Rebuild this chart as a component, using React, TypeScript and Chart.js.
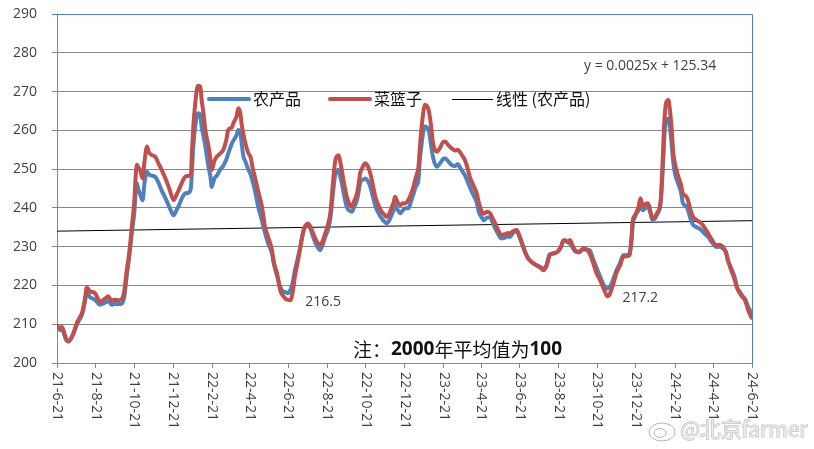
import React, { useEffect, useRef } from "react";
import { Chart, registerables } from "chart.js";

Chart.register(...registerables);

// Day offsets from 2021-06-21
const days = [
  0, 5, 8, 12, 15, 18, 24, 32, 40, 44, 47, 52, 60, 68, 75, 81, 86, 90, 97, 102,
  106, 110, 114, 118, 122, 124, 126, 128, 131, 135, 138, 142, 145, 150, 155, 160, 165, 171, 177, 184,
  188, 192, 197, 202, 207, 211, 213, 215, 218, 221, 223, 226, 228, 231, 234, 239, 242, 244, 248, 252,
  257, 262, 267, 270, 276, 278, 283, 286, 289, 291, 294, 297, 302, 305, 309, 312, 317, 323, 328, 333,
  339, 342, 347, 352, 357, 360, 364, 368, 372, 375, 379, 383, 389, 392, 396, 400, 404, 409, 415, 419,
  423, 427, 431, 436, 439, 444, 446, 449, 453, 457, 461, 465, 468, 473, 476, 478, 482, 486, 490, 494,
  498, 502, 506, 512, 516, 520, 524, 528, 531, 533, 537, 541, 546, 549, 554, 558, 562, 566, 570, 572,
  575, 578, 580, 586, 590, 593, 599, 604, 609, 612, 617, 622, 628, 632, 635, 639, 643, 647, 651, 656,
  662, 665, 670, 673, 678, 683, 687, 691, 695, 701, 706, 711, 714, 719, 725, 730, 735, 739, 743, 749,
  756, 762, 767, 772, 777, 784, 790, 795, 798, 801, 805, 809, 813, 817, 823, 830, 835, 840, 845, 851,
  856, 861, 865, 868, 871, 874, 878, 882, 888, 893, 898, 903, 906, 908, 911, 914, 917, 920, 924, 928,
  932, 936, 939, 943, 946, 952, 954, 956, 958, 961, 964, 966, 969, 972, 975, 979, 984, 987, 992, 995,
  999, 1003, 1009, 1016, 1021, 1027, 1032, 1040, 1045, 1050, 1055, 1058, 1063, 1069, 1072, 1077, 1081, 1085, 1090, 1095,
];

// 菜篮子 (red)
const cailanzi = [
  209.7, 209.0, 209.3, 207.5, 206.0, 205.7, 207.0, 210.6, 213.2, 216.5, 219.5, 218.5, 218.0, 215.8, 216.5, 217.2, 216.0, 216.3, 216.2, 216.5,
  218.5, 223.9, 228.5, 235.1, 242.0, 248.0, 251.1, 250.5, 249.8, 247.6, 252.0, 255.8, 254.3, 253.6, 253.2, 251.5, 249.8, 247.6, 245.0, 242.0,
  243.2, 244.6, 246.5, 248.0, 248.2, 248.5, 255.0, 261.0, 267.0, 270.9, 271.5, 271.3, 268.0, 264.4, 260.0, 255.8, 252.5, 249.8, 252.0, 253.2,
  254.0, 254.9, 257.5, 260.1, 260.8, 261.8, 263.5, 265.7, 264.5, 261.8, 259.0, 256.7, 254.0, 253.2, 250.0, 248.0, 244.5, 240.5, 235.1, 232.5,
  229.1, 226.0, 223.1, 218.8, 217.2, 216.6, 216.3, 216.2, 218.5, 222.2, 225.5, 229.1, 234.3, 235.5, 236.0, 235.0, 233.4, 231.5, 230.4, 231.5,
  233.4, 235.5, 238.6, 248.0, 252.3, 253.6, 252.5, 249.8, 246.0, 242.9, 241.0, 240.3, 241.5, 243.7, 246.5, 248.9, 250.5, 251.5, 250.8, 248.9,
  246.0, 242.9, 241.0, 239.0, 238.3, 237.7, 238.5, 240.3, 241.5, 242.9, 241.5, 240.7, 241.2, 241.2, 242.0, 243.5, 245.4, 248.0, 250.6, 255.0,
  261.0, 265.0, 266.6, 265.3, 261.0, 256.7, 254.5, 255.5, 257.0, 257.1, 256.2, 255.4, 254.8, 255.0, 254.5, 253.5, 252.4, 250.5, 248.0, 246.0,
  243.7, 241.5, 239.0, 238.5, 239.0, 238.6, 237.3, 236.0, 234.5, 233.0, 233.2, 233.5, 233.4, 234.0, 234.3, 232.5, 230.1, 228.3, 227.0, 226.0,
  225.2, 224.6, 223.9, 225.0, 227.8, 228.3, 228.8, 230.0, 231.5, 231.7, 231.2, 231.7, 230.2, 229.1, 228.7, 229.5, 229.3, 228.2, 226.0, 223.1,
  221.5, 219.6, 218.0, 217.2, 217.5, 218.8, 220.8, 223.1, 225.2, 227.4, 227.5, 227.8, 232.0, 236.8, 238.0, 239.0, 240.2, 242.5, 240.3, 241.0,
  241.2, 239.0, 237.3, 237.6, 238.6, 242.0, 248.0, 255.8, 263.0, 267.4, 267.8, 266.1, 261.0, 254.1, 251.0, 248.5, 246.0, 243.7, 243.0, 242.0,
  239.5, 237.7, 236.8, 236.0, 235.0, 233.4, 232.0, 230.4, 230.5, 230.0, 228.5, 226.5, 224.0, 221.3, 219.6, 217.9, 217.0, 216.2, 213.6, 211.7,
];

// 农产品 (blue)
const nongchanpin = [
  209.2, 208.5, 208.8, 207.0, 205.8, 205.5, 206.8, 210.2, 212.8, 215.8, 218.2, 217.0, 216.3, 215.0, 215.5, 216.0, 215.0, 215.2, 215.2, 215.3,
  217.0, 222.5, 227.5, 233.5, 239.0, 244.0, 246.3, 245.0, 243.5, 242.0, 246.5, 249.3, 248.6, 248.3, 248.0, 246.5, 244.5, 242.5, 240.3, 238.1,
  239.3, 240.5, 242.5, 243.7, 243.9, 245.0, 250.0, 256.0, 261.0, 263.8, 264.4, 264.0, 261.0, 258.5, 255.8, 250.5, 248.0, 245.4, 247.5, 248.3,
  249.8, 250.8, 252.5, 254.0, 256.7, 257.3, 258.7, 260.1, 259.5, 257.0, 253.2, 252.0, 249.8, 248.8, 246.5, 244.6, 240.5, 236.8, 233.5, 230.8,
  228.2, 225.5, 222.5, 219.6, 218.4, 218.3, 218.0, 218.8, 221.0, 223.8, 226.5, 229.5, 234.3, 235.2, 235.5, 234.5, 232.5, 230.5, 229.1, 230.5,
  232.5, 234.2, 237.2, 245.0, 248.8, 249.8, 248.5, 246.5, 243.0, 240.2, 239.3, 239.0, 240.0, 242.0, 244.5, 246.5, 247.2, 247.6, 247.0, 245.5,
  243.0, 240.5, 239.0, 237.3, 236.5, 236.0, 236.8, 238.3, 239.5, 240.7, 239.6, 238.6, 239.5, 239.9, 239.9, 241.5, 243.5, 245.5, 247.2, 252.0,
  256.5, 260.0, 261.0, 260.1, 256.0, 253.0, 250.6, 251.5, 252.6, 252.8, 252.0, 251.1, 250.8, 251.3, 250.6, 249.5, 248.5, 247.0, 245.4, 243.5,
  241.3, 239.0, 237.5, 236.8, 237.5, 237.6, 236.2, 234.7, 233.5, 232.1, 232.3, 232.6, 232.5, 233.5, 234.0, 232.2, 230.0, 228.3, 227.0, 226.0,
  225.2, 224.8, 224.3, 225.3, 228.0, 228.3, 228.8, 230.0, 231.3, 231.5, 231.2, 230.8, 229.8, 228.8, 228.5, 229.3, 229.2, 229.1, 227.0, 224.5,
  222.5, 220.5, 219.4, 219.2, 219.5, 220.3, 222.0, 223.8, 225.8, 227.8, 227.8, 228.3, 232.0, 236.0, 237.5, 238.6, 239.3, 240.2, 239.4, 240.0,
  240.2, 238.5, 237.0, 237.3, 238.2, 241.3, 246.0, 252.0, 259.0, 262.7, 263.0, 261.5, 257.0, 251.5, 248.5, 246.5, 244.0, 241.2, 240.5, 239.5,
  237.2, 235.6, 235.0, 234.3, 233.4, 232.5, 231.3, 229.9, 230.0, 229.5, 228.5, 226.5, 224.5, 222.0, 219.6, 218.3, 217.3, 216.5, 214.5, 213.0,
];

// Linear trend (农产品) end values
const trendDays = [0, 1096];
const trendValues = [234.0, 236.7];

const tickLabels = [
  "21-6-21", "21-8-21", "21-10-21", "21-12-21", "22-2-21", "22-4-21", "22-6-21", "22-8-21", "22-10-21",
  "22-12-21", "23-2-21", "23-4-21", "23-6-21", "23-8-21", "23-10-21", "23-12-21", "24-2-21", "24-4-21", "24-6-21",
];

const seriesNames = ["农产品", "菜篮子", "线性 (农产品)"];
const equationText = "y = 0.0025x + 125.34";
const minLabels = [
  { day: 368, value: 216.2, text: "216.5" },
  { day: 868, value: 217.2, text: "217.2" },
];

const START = Date.UTC(2021, 5, 21);
const labelToDay = (s: string) => {
  const [yy, m, d] = s.split("-").map(Number);
  return Math.round((Date.UTC(2000 + yy, m - 1, d) - START) / 86400000);
};
const tickDays = tickLabels.map(labelToDay);

const BLUE = "#4f81bd";
const RED = "#c0504d";
const GRID = "#868686";
const TEXT = "#404040";
const FONT = '"Open Sans", "Noto Sans CJK SC", sans-serif';
const CJK = '"Noto Sans CJK SC", "Open Sans", sans-serif';

const overlayPlugin = {
  id: "overlay",
  afterDraw(chart: any) {
    const ctx = chart.ctx as CanvasRenderingContext2D;
    const area = chart.chartArea;
    const xs = chart.scales.x;
    const ys = chart.scales.y;
    ctx.save();

    // blue frame on top and right
    const topY = Math.round(ys.getPixelForValue(290)) + 0.5;
    ctx.strokeStyle = BLUE;
    ctx.lineWidth = 1;
    ctx.beginPath();
    ctx.moveTo(area.left - 5, topY);
    ctx.lineTo(area.right + 0.5, topY);
    ctx.lineTo(area.right + 0.5, area.bottom);
    ctx.stroke();

    // x tick labels rotated clockwise
    ctx.font = "14px " + FONT;
    ctx.fillStyle = TEXT;
    ctx.textAlign = "left";
    ctx.textBaseline = "middle";
    tickDays.forEach((d, i) => {
      const px = xs.getPixelForValue(d);
      ctx.save();
      ctx.translate(px, area.bottom + 9);
      ctx.rotate(Math.PI / 2);
      ctx.fillText(tickLabels[i], 0, 0);
      ctx.restore();
    });

    // legend
    const ly = 99;
    ctx.lineCap = "round";
    ctx.lineWidth = 4;
    ctx.strokeStyle = BLUE;
    ctx.beginPath();
    ctx.moveTo(209, ly);
    ctx.lineTo(249, ly);
    ctx.stroke();
    ctx.strokeStyle = RED;
    ctx.beginPath();
    ctx.moveTo(330, ly);
    ctx.lineTo(370, ly);
    ctx.stroke();
    ctx.lineCap = "butt";
    ctx.lineWidth = 1;
    ctx.strokeStyle = "#000";
    ctx.beginPath();
    ctx.moveTo(452, ly + 0.5);
    ctx.lineTo(493, ly + 0.5);
    ctx.stroke();
    ctx.font = "16px " + CJK;
    ctx.fillStyle = "#111";
    ctx.textBaseline = "middle";
    ctx.fillText(seriesNames[0], 253, ly);
    ctx.fillText(seriesNames[1], 374, ly);
    ctx.fillText(seriesNames[2], 496, ly);

    // equation
    ctx.font = "14px " + FONT;
    ctx.fillStyle = TEXT;
    ctx.fillText(equationText, 584, 66);

    // min labels
    minLabels.forEach((m) => {
      const px = xs.getPixelForValue(m.day);
      const py = ys.getPixelForValue(m.value);
      ctx.fillText(m.text, px + 15, py + 2);
    });

    // note
    let nx = 353;
    const ny = 350;
    const parts: [string, string][] = [
      ["注：", "19px " + CJK],
      ["2000", "bold 19px " + FONT],
      ["年平均值为", "19px " + CJK],
      ["100", "bold 19px " + FONT],
    ];
    ctx.fillStyle = "#111";
    parts.forEach(([t, f]) => {
      ctx.font = f;
      ctx.fillText(t, nx, ny);
      nx += ctx.measureText(t).width;
    });

    // watermark
    ctx.font = "21px " + CJK;
    ctx.textBaseline = "middle";
    ctx.lineWidth = 1;
    ctx.strokeStyle = "rgba(150,150,150,0.7)";
    ctx.fillStyle = "rgba(235,235,235,0.9)";
    ctx.strokeText("@北京farmer", 680, 429);
    ctx.fillText("@北京farmer", 680, 429);
    ctx.beginPath();
    ctx.ellipse(662, 432, 13, 9, 0, 0, Math.PI * 2);
    ctx.stroke();
    ctx.beginPath();
    ctx.ellipse(660, 433, 6, 4.5, 0, 0, Math.PI * 2);
    ctx.stroke();

    ctx.restore();
  },
};

export default function App() {
  const ref = useRef<HTMLCanvasElement | null>(null);
  useEffect(() => {
    document.body.style.margin = "0";
    const canvas = ref.current!;
    const chart = new Chart(canvas, {
      type: "line",
      data: {
        datasets: [
          {
            label: seriesNames[1],
            data: days.map((d, i) => ({ x: d, y: cailanzi[i] })),
            borderColor: RED,
            borderWidth: 4,
            pointRadius: 0,
            cubicInterpolationMode: "monotone",
            borderCapStyle: "round",
            borderJoinStyle: "round",
            order: 0,
          },
          {
            label: seriesNames[0],
            data: days.map((d, i) => ({ x: d, y: nongchanpin[i] })),
            borderColor: BLUE,
            borderWidth: 4,
            pointRadius: 0,
            cubicInterpolationMode: "monotone",
            borderCapStyle: "round",
            borderJoinStyle: "round",
            order: 1,
          },
          {
            label: seriesNames[2],
            data: trendDays.map((d, i) => ({ x: d, y: trendValues[i] })),
            borderColor: "#000",
            borderWidth: 1,
            pointRadius: 0,
            order: 2,
          },
        ],
      },
      options: {
        responsive: false,
        animation: false,
        devicePixelRatio: 1,
        layout: { padding: { top: 14, right: 62, left: 0, bottom: 0 } },
        plugins: { legend: { display: false }, tooltip: { enabled: false } },
        scales: {
          x: {
            type: "linear",
            min: 0,
            max: 1096,
            afterBuildTicks: (scale: any) => {
              scale.ticks = tickDays.map((v) => ({ value: v }));
            },
            afterFit: (scale: any) => {
              scale.height = 86;
              scale.paddingLeft = 0;
              scale.paddingRight = 0;
            },
            ticks: { display: false },
            grid: { drawOnChartArea: false, drawTicks: true, tickLength: 5, color: GRID },
            border: { color: GRID, width: 1 },
          },
          y: {
            min: 200,
            max: 290,
            afterFit: (scale: any) => {
              scale.width = 57;
              scale.paddingTop = 0;
              scale.paddingBottom = 0;
            },
            ticks: {
              stepSize: 10,
              padding: 15,
              color: TEXT,
              font: { family: FONT, size: 14 },
            },
            grid: { tickLength: 5, color: GRID },
            border: { color: GRID, width: 1 },
          },
        },
      },
      plugins: [overlayPlugin],
    } as any);
    return () => chart.destroy();
  }, []);
  return (
    <div style={{ position: "fixed", left: 0, top: 0, width: 814, height: 449, background: "#fff" }}>
      <canvas ref={ref} width={814} height={449} />
    </div>
  );
}
